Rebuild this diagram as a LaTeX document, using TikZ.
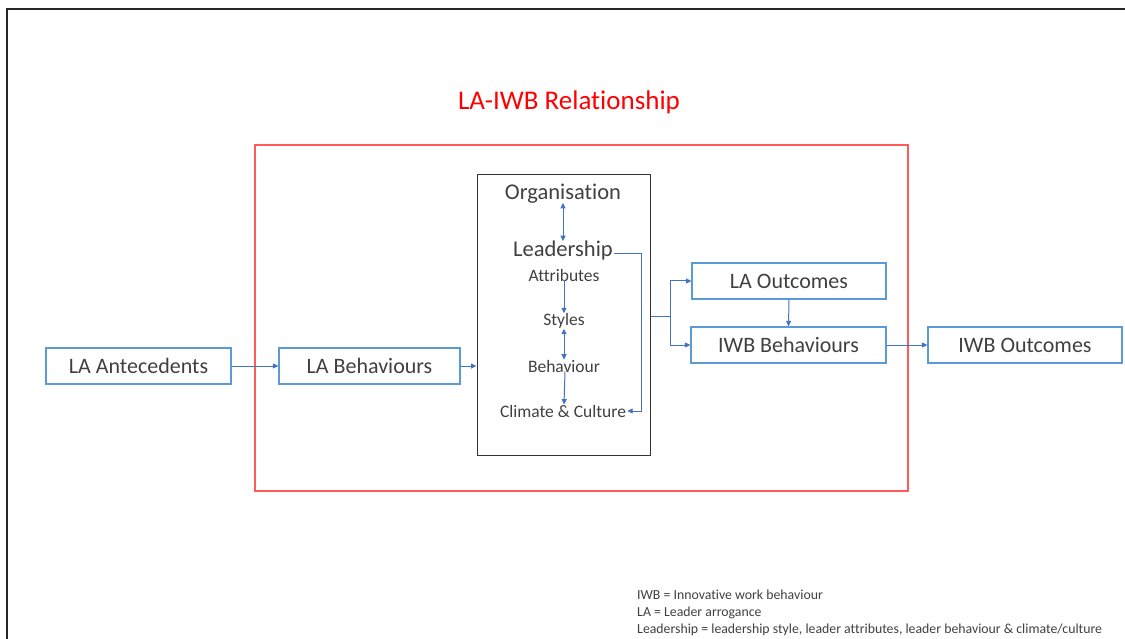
\documentclass[tikz,border=0pt]{standalone}
\usepackage{fontspec}
\setmainfont{Carlito}[Ligatures={NoCommon,NoRare}]
\usetikzlibrary{arrows.meta}
\definecolor{boxblue}{HTML}{5B9BD5}
\definecolor{arrblue}{HTML}{4472C4}
\definecolor{framered}{HTML}{FF5B5B}
\definecolor{txt}{HTML}{404040}
\tikzset{
  box/.style={draw=boxblue, line width=1.2pt, minimum height=36pt, inner sep=0pt,
    text=txt, font=\fontsize{22}{24}\selectfont},
  lbl/.style={inner sep=1pt, text=txt},
  big/.style={lbl, font=\fontsize{22.5}{24}\selectfont},
  small/.style={lbl, font=\fontsize{17.5}{19}\selectfont},
  link/.style={draw=arrblue, line width=1pt},
  arr/.style={link, -{Triangle[length=5.5pt,width=5pt]}},
  darr/.style={link, {Triangle[length=5.5pt,width=5pt]}-{Triangle[length=5.5pt,width=5pt]}},
}
\begin{document}
\begin{tikzpicture}[x=1pt,y=-1pt]
\useasboundingbox (0,0) rectangle (1125,639);
% page frame (top and left edges)
\draw[line width=2pt, black!85] (7,639) -- (7,9) -- (1125,9);

% title and relationship frame
\node[text=red, font=\fontsize{27}{30}\selectfont, inner sep=0pt] (title) at (569,102) {LA-IWB Relationship};
\node[draw=framered, line width=1.5pt, minimum width=653pt, minimum height=346pt, inner sep=0pt] (rel) at (581.5,318) {};

% main boxes
\node[box, minimum width=185pt] (ante) at (138.5,366) {LA Antecedents};
\node[box, minimum width=181pt] (beh) at (369.5,366) {LA Behaviours};
\node[draw=black!80, line width=1pt, minimum width=173pt, minimum height=280pt, inner sep=0pt] (org) at (563.5,315) {};
\node[box, minimum width=194pt] (lao) at (789,281) {LA Outcomes};
\node[box, minimum width=195pt] (iwbb) at (788.5,345) {IWB Behaviours};
\node[box, minimum width=194pt] (iwbo) at (1025,345) {IWB Outcomes};

% contents of the organisation box
\node[big] (torg) at (563,194) {Organisation};
\node[big] (tlead) at (563,251) {Leadership};
\node[small] (tattr) at (564,275) {Attributes};
\node[small] (tsty) at (564,321) {Styles};
\node[small] (tbeh) at (564,366) {Behaviour};
\node[small] (tclim) at (563,411) {Climate \& Culture};

\draw[darr] ([yshift=2pt]torg.south) -- ([yshift=-1pt]tlead.north);
\draw[arr] ([yshift=2pt]tattr.south) -- ([yshift=-1pt]tsty.north);
\draw[darr] ([yshift=1pt]tsty.south) -- ([yshift=-1pt]tbeh.north);
\draw[arr] ([xshift=1pt,yshift=2pt]tbeh.south) -- ([xshift=1pt,yshift=-1pt]tclim.north);
\coordinate (loop) at (641,254);
\draw[arr] (tlead.east |- loop) -- (loop) |- (tclim.east);

% flow between boxes
\draw[arr] (ante.east) -- (beh.west);
\draw[arr] (beh.east) -- (beh.east -| org.west);
\coordinate (fork) at (670,316);
\draw[link] (org.east |- fork) -- (fork);
\draw[arr] (fork) |- (lao.west);
\draw[arr] (fork) |- (iwbb.west);
\draw[arr] (lao.south) -- (iwbb.north);
\draw[arr] (iwbb.east) -- (iwbo.west);

% abbreviations
\node[lbl, anchor=north west, align=left, font=\fontsize{13.8}{17}\selectfont] (notes) at (636,589)
  {IWB = Innovative work behaviour\\LA = Leader arrogance\\Leadership = leadership style, leader attributes, leader behaviour \& climate/culture};
\end{tikzpicture}
\end{document}
